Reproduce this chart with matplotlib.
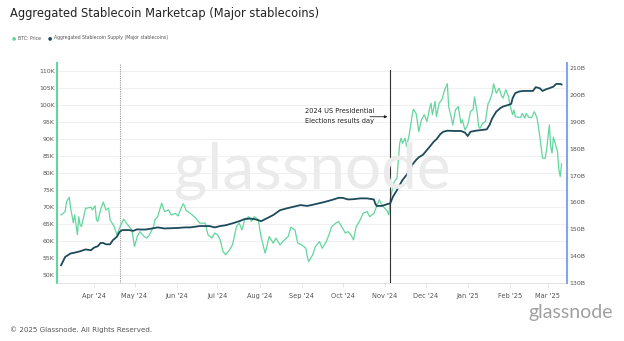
import matplotlib
matplotlib.use("Agg")
import matplotlib.pyplot as plt
import matplotlib.dates as mdates
import pandas as pd

# BTC price (thousand USD)
btc_dates = ["2024-03-08", "2024-03-11", "2024-03-12", "2024-03-14", "2024-03-15", "2024-03-17",
             "2024-03-18", "2024-03-20", "2024-03-21", "2024-03-22", "2024-03-23", "2024-03-26",
             "2024-03-27", "2024-03-30", "2024-03-31", "2024-04-02", "2024-04-03", "2024-04-04",
             "2024-04-06", "2024-04-08", "2024-04-10", "2024-04-12", "2024-04-13", "2024-04-16",
             "2024-04-18", "2024-04-21", "2024-04-23", "2024-04-25", "2024-04-27", "2024-04-29",
             "2024-05-01", "2024-05-03", "2024-05-05", "2024-05-07", "2024-05-08", "2024-05-10",
             "2024-05-12", "2024-05-15", "2024-05-16", "2024-05-18", "2024-05-21", "2024-05-23",
             "2024-05-26", "2024-05-28", "2024-05-31", "2024-06-02", "2024-06-05", "2024-06-06",
             "2024-06-08", "2024-06-11", "2024-06-15", "2024-06-18", "2024-06-22", "2024-06-24",
             "2024-06-27", "2024-06-29", "2024-07-01", "2024-07-03", "2024-07-05", "2024-07-07",
             "2024-07-10", "2024-07-12", "2024-07-15", "2024-07-17", "2024-07-19", "2024-07-21",
             "2024-07-24", "2024-07-26", "2024-07-28", "2024-07-31", "2024-08-02", "2024-08-05",
             "2024-08-06", "2024-08-08", "2024-08-11", "2024-08-13", "2024-08-16", "2024-08-18",
             "2024-08-22", "2024-08-24", "2024-08-27", "2024-08-29", "2024-09-01", "2024-09-04",
             "2024-09-05", "2024-09-06", "2024-09-09", "2024-09-11", "2024-09-14", "2024-09-16",
             "2024-09-19", "2024-09-21", "2024-09-23", "2024-09-26", "2024-09-28", "2024-10-01",
             "2024-10-03", "2024-10-05", "2024-10-07", "2024-10-09", "2024-10-11", "2024-10-14",
             "2024-10-16", "2024-10-19", "2024-10-21", "2024-10-24", "2024-10-26", "2024-10-28",
             "2024-10-29", "2024-11-01", "2024-11-03", "2024-11-04", "2024-11-05", "2024-11-07",
             "2024-11-08", "2024-11-10", "2024-11-11", "2024-11-12", "2024-11-13", "2024-11-14",
             "2024-11-16", "2024-11-17", "2024-11-19", "2024-11-21", "2024-11-22", "2024-11-24",
             "2024-11-25", "2024-11-26", "2024-11-28", "2024-11-30", "2024-12-02", "2024-12-04",
             "2024-12-05", "2024-12-06", "2024-12-08", "2024-12-09", "2024-12-11", "2024-12-13",
             "2024-12-15", "2024-12-17", "2024-12-18", "2024-12-20", "2024-12-21", "2024-12-23",
             "2024-12-25", "2024-12-27", "2024-12-28", "2024-12-30", "2025-01-01", "2025-01-03",
             "2025-01-05", "2025-01-06", "2025-01-08", "2025-01-09", "2025-01-10", "2025-01-12",
             "2025-01-14", "2025-01-16", "2025-01-17", "2025-01-19", "2025-01-20", "2025-01-22",
             "2025-01-24", "2025-01-26", "2025-01-27", "2025-01-29", "2025-01-31", "2025-02-01",
             "2025-02-03", "2025-02-04", "2025-02-05", "2025-02-09", "2025-02-10", "2025-02-12",
             "2025-02-13", "2025-02-15", "2025-02-17", "2025-02-19", "2025-02-21", "2025-02-23",
             "2025-02-25", "2025-02-27", "2025-02-28", "2025-03-02", "2025-03-03", "2025-03-04",
             "2025-03-05", "2025-03-07", "2025-03-08", "2025-03-09", "2025-03-10", "2025-03-11"]
btc_price = [67.6, 68.6, 71.5, 72.8, 69.7, 65.3,
             67.6, 61.8, 67.1, 64.7, 64.2, 69.6,
             69.6, 69.9, 69.1, 70.3, 66.2, 65.7,
             69.1, 71.4, 69.1, 69.6, 66.2, 64.2,
             61.8, 64.7, 66.4, 65.2, 64.2, 63.2,
             58.3, 61.3, 62.7, 61.8, 61.3, 60.8,
             61.8, 64.2, 66.2, 67.1, 71.1, 68.6,
             69.1, 67.6, 68.1, 67.3, 70.3, 70.9,
             68.9, 68.1, 66.7, 65.2, 65.2, 61.8,
             60.8, 62.3, 61.8, 60.3, 56.9, 55.9,
             57.4, 58.8, 64.2, 65.2, 63.2, 66.2,
             67.1, 65.7, 67.1, 66.2, 61.3, 56.4,
             57.8, 61.3, 59.3, 60.8, 58.8, 59.8,
             61.3, 64.0, 63.2, 59.3, 58.8, 57.8,
             55.4, 53.9, 55.9, 58.3, 59.8, 57.8,
             59.8, 61.8, 64.2, 65.2, 65.7, 63.7,
             62.3, 62.7, 61.8, 60.3, 64.2, 66.2,
             68.1, 68.6, 67.1, 68.1, 70.1, 72.1,
             71.1, 69.6, 68.6, 67.6, 72.1, 76.0,
             77.4, 78.4, 83.8, 88.7, 90.2, 88.7,
             90.2, 87.7, 91.2, 96.5, 98.7, 97.5,
             95.1, 92.1, 95.6, 97.1, 95.1, 99.0,
             100.5, 97.1, 101.0, 96.5, 100.5, 101.5,
             104.4, 106.2, 99.5, 96.1, 94.1, 98.5,
             99.5, 94.6, 95.6, 92.6, 94.1, 98.0,
             98.7, 102.3, 97.5, 93.6, 93.1, 94.6,
             95.1, 100.5, 101.0, 103.4, 106.2, 103.4,
             104.9, 102.5, 102.0, 104.4, 102.5, 100.0,
             97.1, 98.5, 96.5, 96.3, 97.5, 96.1,
             97.5, 96.3, 96.3, 98.0, 96.1, 90.7,
             84.3, 84.3, 86.8, 94.1, 87.7, 85.8,
             90.5, 87.7, 86.3, 80.9, 78.9, 82.6]

# aggregated stablecoin supply (billion USD)
supply_dates = ["2024-03-08", "2024-03-11", "2024-03-15", "2024-03-18", "2024-03-22", "2024-03-26",
                "2024-03-30", "2024-04-01", "2024-04-04", "2024-04-06", "2024-04-08", "2024-04-10",
                "2024-04-13", "2024-04-15", "2024-04-18", "2024-04-20", "2024-04-22", "2024-04-27",
                "2024-04-30", "2024-05-03", "2024-05-05", "2024-05-09", "2024-05-14", "2024-05-18",
                "2024-05-23", "2024-05-28", "2024-06-02", "2024-06-07", "2024-06-11", "2024-06-18",
                "2024-06-25", "2024-06-29", "2024-07-03", "2024-07-07", "2024-07-12", "2024-07-17",
                "2024-07-21", "2024-07-25", "2024-07-28", "2024-07-31", "2024-08-02", "2024-08-06",
                "2024-08-11", "2024-08-16", "2024-08-21", "2024-08-26", "2024-08-31", "2024-09-05",
                "2024-09-08", "2024-09-13", "2024-09-18", "2024-09-23", "2024-09-28", "2024-10-01",
                "2024-10-05", "2024-10-09", "2024-10-14", "2024-10-19", "2024-10-24", "2024-10-25",
                "2024-10-26", "2024-10-30", "2024-11-03", "2024-11-05", "2024-11-07", "2024-11-10",
                "2024-11-12", "2024-11-14", "2024-11-17", "2024-11-19", "2024-11-21", "2024-11-24",
                "2024-11-26", "2024-11-29", "2024-12-01", "2024-12-04", "2024-12-07", "2024-12-09",
                "2024-12-12", "2024-12-14", "2024-12-17", "2024-12-22", "2024-12-27", "2024-12-30",
                "2025-01-01", "2025-01-03", "2025-01-07", "2025-01-12", "2025-01-15", "2025-01-17",
                "2025-01-19", "2025-01-22", "2025-01-25", "2025-01-27", "2025-01-31", "2025-02-02",
                "2025-02-03", "2025-02-05", "2025-02-08", "2025-02-11", "2025-02-15", "2025-02-18",
                "2025-02-20", "2025-02-23", "2025-02-25", "2025-02-28", "2025-03-02", "2025-03-05",
                "2025-03-07", "2025-03-10", "2025-03-11"]
supply = [136.6, 139.7, 141.0, 141.3, 141.8, 142.5,
          142.2, 143.1, 143.7, 144.9, 144.9, 144.4,
          144.4, 145.9, 147.2, 149.0, 149.7, 149.7,
          149.4, 150.0, 149.9, 149.9, 150.3, 150.7,
          150.3, 150.4, 150.5, 150.7, 150.7, 151.2,
          151.2, 150.7, 151.2, 151.5, 152.2, 153.0,
          153.8, 154.0, 153.8, 153.4, 153.0, 154.0,
          155.3, 157.1, 157.8, 158.4, 159.0, 158.7,
          159.0, 159.6, 160.2, 160.9, 161.7, 161.7,
          161.1, 161.2, 161.5, 161.5, 161.1, 159.6,
          158.7, 158.7, 159.4, 159.6, 162.1, 164.6,
          166.5, 168.3, 170.2, 172.1, 173.9, 175.8,
          176.8, 177.7, 178.9, 180.7, 182.6, 183.5,
          185.5, 186.3, 186.7, 186.6, 186.6, 186.0,
          184.7, 186.3, 186.7, 187.0, 187.2, 188.8,
          191.3, 193.8, 195.1, 195.7, 196.3, 196.7,
          198.8, 200.7, 201.3, 201.5, 201.5, 201.5,
          202.9, 202.5, 201.5, 202.2, 202.5, 203.1,
          204.1, 204.1, 203.9]

left_ticks = [50, 55, 60, 65, 70, 75, 80, 85, 90, 95, 100, 105, 110]
right_ticks = [130, 140, 150, 160, 170, 180, 190, 200, 210]
halving_date = "2024-04-20"
election_date = "2024-11-05"

green = "#62d69f"
dark = "#1d4a5b"
grey_txt = "#555555"

btc_x = pd.to_datetime(btc_dates)
sup_x = pd.to_datetime(supply_dates)

fig = plt.figure(figsize=(6.24, 3.41), dpi=100)
ax = fig.add_axes([57 / 624, 1 - 283 / 341, 510 / 624, 220 / 341])
ax2 = ax.twinx()

ax.plot(btc_x, btc_price, color=green, lw=0.9, zorder=3)
ax2.plot(sup_x, supply, color=dark, lw=1.3, zorder=3)

ax.set_xlim(pd.Timestamp("2024-03-05"), pd.Timestamp("2025-03-15"))
ax.set_ylim(47.6, 112.3)
ax2.set_ylim(130, 211.9)

# grid + spines
ax.set_yticks(left_ticks)
ax.set_yticklabels([f"{v}K" for v in left_ticks])
ax.yaxis.grid(True, color="#eeeeee", lw=0.6)
ax.set_axisbelow(True)
ax2.set_yticks(right_ticks)
ax2.set_yticklabels([f"{v}B" for v in right_ticks])

for a in (ax, ax2):
    a.spines["top"].set_visible(False)
    a.spines["left"].set_visible(False)
    a.spines["right"].set_visible(False)
    a.spines["bottom"].set_visible(False)
ax.spines["left"].set_visible(True)
ax.spines["left"].set_color(green)
ax.spines["left"].set_linewidth(1.5)
ax2.spines["right"].set_visible(True)
ax2.spines["right"].set_color("#86a6e3")
ax2.spines["right"].set_linewidth(1.5)
ax.spines["bottom"].set_visible(True)
ax.spines["bottom"].set_color("#dddddd")
ax.spines["bottom"].set_linewidth(0.6)

ax.tick_params(axis="y", length=0, pad=1.5, labelsize=4.5, labelcolor=grey_txt)
ax2.tick_params(axis="y", length=0, pad=2, labelsize=4.5, labelcolor=grey_txt)

ax.xaxis.set_major_locator(mdates.MonthLocator(bymonth=[1, 2, 3, 4, 5, 6, 7, 8, 9, 10, 11, 12]))
ax.xaxis.set_major_formatter(mdates.DateFormatter("%b '%y"))
ax.tick_params(axis="x", length=3, width=0.5, color="#dddddd", pad=4, labelsize=4.8, labelcolor=grey_txt)

# event lines
ax.axvline(pd.Timestamp(halving_date), color="#999999", lw=0.8, ls=(0, (1, 1)), zorder=2)
ax.axvline(pd.Timestamp(election_date), color="#333333", lw=0.8, ymax=0.97, zorder=4)
ax.annotate("", xy=(pd.Timestamp(election_date), 96.5), xytext=(pd.Timestamp("2024-10-19"), 96.5),
            arrowprops=dict(arrowstyle="-|>", color="#222222", lw=0.6, mutation_scale=4), zorder=5)
ax.text(pd.Timestamp("2024-09-03"), 98.2, "2024 US Presidential", fontsize=4.8, color="#222222", va="center", zorder=5)
ax.text(pd.Timestamp("2024-09-03"), 95.3, "Elections results day", fontsize=4.8, color="#222222", va="center", zorder=5)

# watermark
fig.text(0.5, 1 - 189 / 341, "glassnode", fontsize=46, color="#ebebeb", ha="center", va="baseline",
         family="Lato", zorder=0)

# header / footer
fig.text(10 / 624, 1 - 14 / 341, "Aggregated Stablecoin Marketcap (Major stablecoins)", fontsize=8.3,
         color="#222222", va="center")
fig.text(14 / 624, 1 - 38 / 341, "\u25cf", fontsize=3.5, color=green, va="center", ha="center")
fig.text(18 / 624, 1 - 38 / 341, "BTC: Price", fontsize=3.3, color=grey_txt, va="center")
fig.text(50 / 624, 1 - 38 / 341, "\u25cf", fontsize=3.5, color=dark, va="center", ha="center")
fig.text(54 / 624, 1 - 38 / 341, "Aggregated Stablecoin Supply (Major stablecoins)", fontsize=3.3,
         color=grey_txt, va="center")
fig.text(10 / 624, 1 - 330 / 341, "\u00a9 2025 Glassnode. All Rights Reserved.", fontsize=5.1,
         color="#555555", va="center")
fig.text(613 / 624, 1 - 318 / 341, "glassnode", fontsize=14, color="#a0a0a0", ha="right", va="baseline",
         family="Lato")

fig.savefig("out.png", dpi=100)
